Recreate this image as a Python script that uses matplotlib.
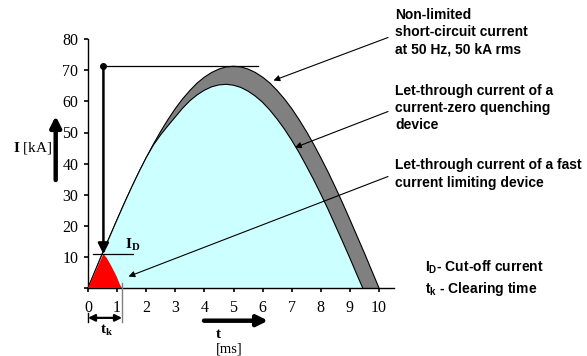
import matplotlib
matplotlib.use("Agg")
import matplotlib.pyplot as plt

# ---------------- data ----------------
t_outer = [0, 0.25, 0.5, 0.75, 1, 1.25, 1.5, 1.75, 2, 2.25, 2.5, 2.75, 3, 3.25,
           3.5, 3.75, 4, 4.25, 4.5, 4.75, 5, 5.25, 5.5, 5.75, 6, 6.25, 6.5,
           6.75, 7, 7.25, 7.5, 7.75, 8, 8.25, 8.5, 8.75, 9, 9.25, 9.5, 9.75, 10]
i_outer = [0, 5.6, 11.2, 16.6, 22.0, 27.3, 32.4, 37.3, 41.9, 46.3, 50.4, 54.2,
           57.7, 60.8, 63.5, 65.9, 67.8, 69.3, 70.4, 71.1, 71.3, 71.1, 70.4,
           69.3, 67.8, 65.9, 63.5, 60.8, 57.7, 54.2, 50.4, 46.3, 41.9, 37.3,
           32.4, 27.3, 22.0, 16.6, 11.2, 5.6, 0]
t_inner = [0, 0.25, 0.5, 0.75, 1, 1.25, 1.5, 1.75, 2, 2.25, 2.5, 2.75, 3, 3.25,
           3.5, 3.75, 4, 4.25, 4.5, 4.75, 5, 5.25, 5.5, 5.75, 6, 6.25, 6.5,
           6.75, 7, 7.25, 7.5, 7.75, 8, 8.25, 8.5, 8.75, 9, 9.25, 9.44]
i_inner = [0, 5.6, 11.2, 16.6, 22.0, 27.3, 32.4, 37.3, 41.9, 46.0, 49.3, 52.2,
           55.0, 57.8, 60.2, 62.1, 63.6, 64.7, 65.3, 65.5, 65.2, 64.5, 63.3,
           61.7, 59.7, 57.2, 54.3, 51.1, 47.5, 43.6, 39.3, 34.9, 30.2, 25.3,
           20.1, 14.9, 9.6, 4.1, 0]
t_limit = [0, 0.53, 0.65, 0.81, 0.99, 1.1, 1.17]
i_limit = [0, 10.9, 9.6, 6.9, 3.6, 1.0, 0]

x_ticks = [0, 1, 2, 3, 4, 5, 6, 7, 8, 9, 10]
x_tick_labels = ["0", "1", "2", "3", "4", "5", "6", "7", "8", "9", "10"]
y_ticks = [0, 10, 20, 30, 40, 50, 60, 70, 80]
y_tick_labels = ["", "10", "20", "30", "40", "50", "60", "70", "80"]

# ---------------- layout ----------------
W, H = 587, 356
X0, Y0, SX, SY = 88.0, 288.0, 29.1, 3.11


def P(px, py):
    """pixel position in the image -> data coordinates"""
    return ((px - X0) / SX, (Y0 - py) / SY)


plt.rcParams["mathtext.fontset"] = "custom"
plt.rcParams["mathtext.rm"] = "Liberation Serif:bold"
plt.rcParams["mathtext.sf"] = "Liberation Sans:bold"

fig = plt.figure(figsize=(W / 100, H / 100), dpi=100)
ax = fig.add_axes([0, 0, 1, 1])
ax.set_xlim(P(0, 0)[0], P(W, 0)[0])
ax.set_ylim(P(0, H)[1], P(0, 0)[1])
ax.patch.set_alpha(0)

for s in ("top", "right"):
    ax.spines[s].set_visible(False)
ax.spines["left"].set_position(("data", 0))
ax.spines["bottom"].set_position(("data", 0))
ax.spines["left"].set_bounds(0, 80)
ax.spines["bottom"].set_bounds(0, 10.5)
ax.spines["left"].set_linewidth(1.0)
ax.spines["bottom"].set_linewidth(1.0)

ax.set_xticks(x_ticks)
ax.set_xticklabels(x_tick_labels)
ax.set_yticks(y_ticks)
ax.set_yticklabels(y_tick_labels)
ax.tick_params(axis="both", direction="out", length=3, width=1.2,
               labelsize=11.5, pad=4)
ax.tick_params(axis="x", pad=6)
for lab in ax.get_xticklabels() + ax.get_yticklabels():
    lab.set_family("Liberation Serif")

# curves
ax.fill_between(t_outer, i_outer, 0, facecolor="#808080", edgecolor="none", zorder=1)
ax.plot(t_outer, i_outer, color="black", lw=0.8, zorder=2)
ax.fill_between(t_inner, i_inner, 0, facecolor="#CCFFFF", edgecolor="none", zorder=2)
ax.plot(t_inner, i_inner, color="black", lw=0.8, zorder=2.2)
ax.fill_between(t_limit, i_limit, 0, facecolor="#FF0000", edgecolor="none", zorder=3)

# peak / cut-off markers
peak = max(i_outer)
i_D = max(i_limit)
t_D = t_limit[i_limit.index(i_D)]
t_k = t_limit[-1]

ax.plot([t_D, 5.85], [peak, peak], color="black", lw=0.9, zorder=4)
ax.plot([t_D], [peak], "o", color="black", ms=4, zorder=5)
ax.annotate("", xy=(t_D, i_D), xytext=(t_D, peak),
            arrowprops=dict(arrowstyle="-|>", lw=1.8, color="black",
                            mutation_scale=16, shrinkA=0, shrinkB=0), zorder=5)
ax.plot([0.18, 1.56], [i_D, i_D], color="black", lw=0.9, zorder=4)
ax.text(1.28, i_D + 0.3, r"$\mathrm{I_D}$", fontsize=11,
        family="Liberation Serif", va="bottom", ha="left")

# clearing time
ax.plot([t_k, t_k], [1.5, -11.0], color="#808080", lw=1.0, zorder=4)
ax.plot([0, 0], [-8.0, -11.0], color="black", lw=1.0, zorder=4)
ax.annotate("", xy=(0, -9.6), xytext=(t_k, -9.6),
            arrowprops=dict(arrowstyle="<|-|>", lw=1.6, color="black",
                            mutation_scale=10, shrinkA=0, shrinkB=0))
ax.text(t_k / 2 + 0.05, -13.5, r"$\mathrm{t_k}$", fontsize=11,
        family="Liberation Serif", ha="center", va="center")

# axis labels with thick arrows
ax.annotate("", xy=P(268, 320.7), xytext=P(204, 320.7),
            arrowprops=dict(arrowstyle="-|>", lw=3.2, color="black",
                            mutation_scale=16, shrinkA=0, shrinkB=0))
tx, ty = P(218.5, 334)
ax.text(tx, ty, r"$\mathrm{t}$", fontsize=11, family="Liberation Serif",
        ha="center", va="center")
tx, ty = P(229.5, 349)
ax.text(tx, ty, "[ms]", fontsize=10.5, family="Liberation Serif",
        ha="center", va="center")

ax.annotate("", xy=P(55.7, 116), xytext=P(55.7, 180),
            arrowprops=dict(arrowstyle="-|>", lw=3.2, color="black",
                            mutation_scale=16, shrinkA=0, shrinkB=0))
tx, ty = P(33, 148.5)
ax.text(tx, ty, r"$\mathrm{I}$ [kA]", fontsize=11, family="Liberation Serif",
        ha="center", va="center")

# annotation texts
txt_kw = dict(fontsize=10, family="Liberation Sans", fontweight="bold",
              ha="left", va="top", linespacing=1.3)
ax.text(*P(395, 8), "Non-limited\nshort-circuit current\nat 50 Hz, 50 kA rms", **txt_kw)
ax.text(*P(395, 83.5), "Let-through current of a\ncurrent-zero quenching\ndevice", **txt_kw)
ax.text(*P(395, 158.5), "Let-through current of a fast\ncurrent limiting device", **txt_kw)

arrow_kw = dict(arrowstyle="-|>", lw=0.8, color="black", mutation_scale=9,
                shrinkA=0, shrinkB=0)
ax.annotate("", xy=P(273.5, 80.5), xytext=P(388, 37.5), arrowprops=arrow_kw)
ax.annotate("", xy=P(295, 147.5), xytext=P(388, 111.5), arrowprops=arrow_kw)
ax.annotate("", xy=P(128.5, 276.5), xytext=P(388, 176.5), arrowprops=arrow_kw)

leg_kw = dict(fontsize=10, family="Liberation Sans", fontweight="bold",
              ha="left", va="center")
ax.text(*P(425, 267), r"$\mathsf{I_D}$- Cut-off current", **leg_kw)
ax.text(*P(425, 289), r"$\mathsf{t_k}$ - Clearing time", **leg_kw)

fig.savefig("out.png", dpi=100)
